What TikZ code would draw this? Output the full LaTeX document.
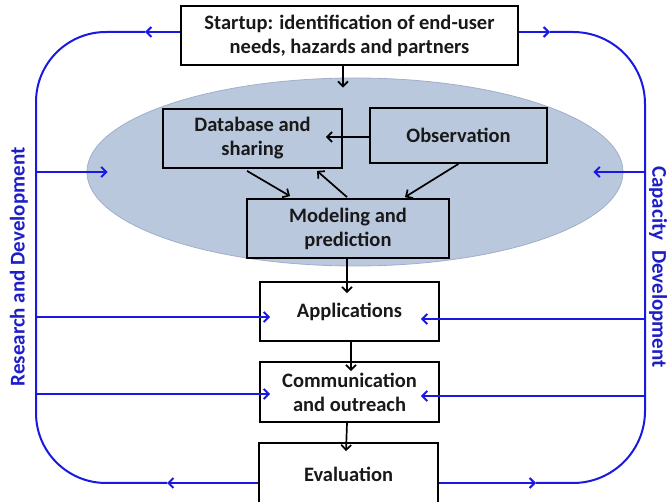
\documentclass[tikz,border=0pt]{standalone}
\usepackage{fontspec}
\setmainfont{Carlito}
\usetikzlibrary{arrows.meta,calc,shapes.geometric}
\definecolor{lb}{RGB}{25,25,225}
\definecolor{lbt}{RGB}{30,30,200}
\definecolor{ellf}{RGB}{186,200,221}
\definecolor{elld}{RGB}{160,176,202}
\begin{document}
\begin{tikzpicture}[x=1pt,y=-1pt,
  font=\bfseries\fontsize{20.5}{24}\selectfont,
  box/.style={draw=black, line width=1.8pt, align=center, inner sep=0pt, text=black!90},
  ba/.style={draw=black, line width=1.7pt, -{Straight Barb[length=5pt,width=10pt]}},
  bline/.style={draw=lb, line width=2pt},
  barr/.style={bline, -{Straight Barb[length=5pt,width=10pt]}},
  side/.style={text=lbt, inner sep=0pt, font=\bfseries\fontsize{21}{24}\selectfont}]
\useasboundingbox (0,0) rectangle (667,502);
% ellipse
\node[ellipse, fill=ellf, draw=elld, line width=0.8pt, minimum width=536pt, minimum height=188pt, inner sep=0pt] (ell) at (355,172) {};
% boxes
\node[box, fill=white, minimum width=337pt, minimum height=59pt] (start) at (349.5,35.5) {Startup: identification of end-user\\needs, hazards and partners};
\node[box, minimum width=179pt, minimum height=59pt] (db) at (252.5,138.5) {Database and\\sharing};
\node[box, minimum width=177pt, minimum height=55pt] (obs) at (458.5,135.5) {Observation};
\node[box, minimum width=202pt, minimum height=59pt] (mod) at (348,228.5) {Modeling and\\prediction};
\node[box, fill=white, minimum width=179pt, minimum height=59pt] (app) at (349.5,311.5) {Applications};
\node[box, fill=white, minimum width=179pt, minimum height=60pt] (com) at (349.5,392) {Communication\\and outreach};
\node[box, fill=white, minimum width=179pt, minimum height=62pt] (eva) at (348.5,474) {Evaluation};
% black arrows
\draw[ba] ([xshift=-6.5pt]start.south) -- ([xshift=-12pt,yshift=-10pt]ell.north);
\draw[ba] ([yshift=-1.5pt]obs.west) -- ([xshift=-17pt,yshift=1.5pt]db.east);
\draw[ba] ([xshift=-5.5pt,yshift=-2pt]db.south) -- ([xshift=-58pt,yshift=2pt]mod.north);
\draw[ba] ([xshift=-1pt,yshift=1pt]mod.north) -- ([xshift=64.5pt,yshift=-2pt]db.south);
\draw[ba] (obs.south) -- ([xshift=57pt,yshift=1pt]mod.north);
\draw[ba] ([xshift=-1pt]mod.south) -- ([xshift=-2.5pt,yshift=-12pt]app.north);
\draw[ba] ([xshift=1.5pt]app.south) -- ([xshift=1.5pt,yshift=-10pt]com.north);
\draw[ba] ([xshift=-2.5pt]com.south) -- ([xshift=-2.5pt,yshift=-9pt]eva.north);
% blue loop
\coordinate (tlA) at (145,32); \coordinate (tl) at (36,32);
\coordinate (bl) at (36,483); \coordinate (blA) at (167,483);
\coordinate (trA) at (550,32); \coordinate (tr) at (645,32);
\coordinate (br) at (645,483); \coordinate (brA) at (536,483);
\draw[barr] ([yshift=3.5pt]start.west) -- (tlA);
\draw[bline, rounded corners=70pt] (tlA) -- (tl) -- (bl) -- (blA);
\draw[barr] ([yshift=-9pt]eva.west) -- (blA);
\draw[barr] ([yshift=3.5pt]start.east) -- (trA);
\draw[bline, rounded corners=72pt] (trA) -- (tr) -- (br) -- (brA);
\draw[barr] ([yshift=-9pt]eva.east) -- (brA);
% branches
\coordinate (le) at (36,172); \coordinate (la) at (36,317); \coordinate (lc) at (36,394);
\coordinate (re) at (645,172); \coordinate (ra) at (645,319); \coordinate (rc) at (645,396);
\draw[barr] (le) -- ([xshift=21pt]ell.west);
\draw[barr] (la) -- ([xshift=11pt,yshift=-5.5pt]app.west);
\draw[barr] (lc) -- ([xshift=11pt,yshift=-2pt]com.west);
\draw[barr] (re) -- ([xshift=-30pt]ell.east);
\draw[barr] (ra) -- ([xshift=-19pt,yshift=-7.5pt]app.east);
\draw[barr] (rc) -- ([xshift=-19pt,yshift=-4pt]com.east);
% side labels
\node[side, rotate=90] (rd) at (19,267) {Research and Development};
\node[side, rotate=-90] (cd) at (658,267) {Capacity\ \ Development};
\end{tikzpicture}
\end{document}
